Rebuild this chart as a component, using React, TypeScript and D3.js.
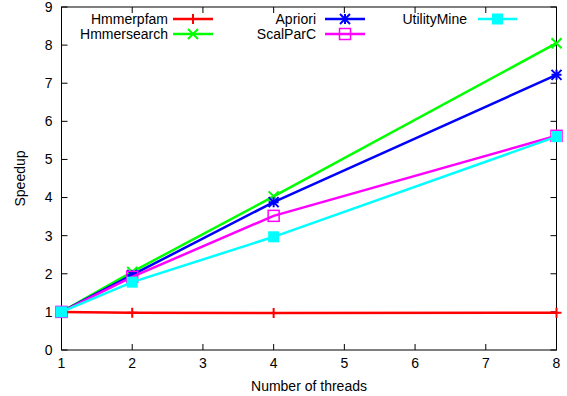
import React from "react";
import * as d3 from "d3";

const threads = [1, 2, 4, 8];
const hmmerpfam = [1, 0.98, 0.97, 0.98];
const hmmersearch = [1, 2.05, 4.03, 8.05];
const apriori = [1, 1.97, 3.88, 7.22];
const scalparc = [1, 1.92, 3.52, 5.62];
const utilitymine = [1, 1.78, 2.97, 5.6];
const xTicks = [1, 2, 3, 4, 5, 6, 7, 8];
const yTicks = [0, 1, 2, 3, 4, 5, 6, 7, 8, 9];

const seriesList = [
  { name: "Hmmerpfam", values: hmmerpfam, color: "#ff0000", marker: "plus" },
  { name: "Hmmersearch", values: hmmersearch, color: "#00ff00", marker: "cross" },
  { name: "Apriori", values: apriori, color: "#0000ff", marker: "star" },
  { name: "ScalParC", values: scalparc, color: "#ff00ff", marker: "square" },
  { name: "UtilityMine", values: utilitymine, color: "#00ffff", marker: "fsquare" },
];

const W = 567, H = 396;
const L = 61.5, R = 556.5, T = 7, B = 350;

function Marker({ type, x, y, color }: { type: string; x: number; y: number; color: string }) {
  const s = 5;
  if (type === "plus")
    return <path d={`M${x - s},${y}H${x + s}M${x},${y - s}V${y + s}`} stroke={color} strokeWidth={2} />;
  if (type === "cross")
    return <path d={`M${x - s},${y - s}L${x + s},${y + s}M${x - s},${y + s}L${x + s},${y - s}`} stroke={color} strokeWidth={2} />;
  if (type === "star")
    return (
      <path
        d={`M${x - s},${y}H${x + s}M${x},${y - s}V${y + s}M${x - s},${y - s}L${x + s},${y + s}M${x - s},${y + s}L${x + s},${y - s}`}
        stroke={color}
        strokeWidth={2}
      />
    );
  if (type === "square")
    return <rect x={x - 5.5} y={y - 5.5} width={11} height={11} fill="none" stroke={color} strokeWidth={1.5} />;
  return <rect x={x - 5.5} y={y - 5.5} width={11} height={11} fill={color} stroke="none" />;
}

export default function App() {
  const x = d3.scaleLinear().domain([1, 8]).range([L, R]);
  const y = d3.scaleLinear().domain([0, 9]).range([B, T]);
  const line = d3
    .line<number>()
    .x((_, i) => x(threads[i]))
    .y((d) => y(d));
  const font = "'Liberation Sans', Arial, Helvetica, sans-serif";
  const fs = 14;

  const legendPos = [
    { tx: 168, lx1: 173, lx2: 213, y: 19 },
    { tx: 168, lx1: 173, lx2: 213, y: 34 },
    { tx: 316, lx1: 325, lx2: 365, y: 19 },
    { tx: 316, lx1: 325, lx2: 365, y: 34 },
    { tx: 467, lx1: 478, lx2: 517, y: 19 },
  ];

  return (
    <svg width={W} height={H} style={{ position: "absolute", left: 0, top: 0, background: "#fff" }} fontFamily={font}>
      <rect width={W} height={H} fill="#fff" />
      {yTicks.map((t) => (
        <g key={"y" + t}>
          <line x1={L} x2={L + 6} y1={y(t)} y2={y(t)} stroke="#000" />
          <line x1={R} x2={R - 6} y1={y(t)} y2={y(t)} stroke="#000" />
          <text x={L - 9} y={y(t)} dy="0.35em" textAnchor="end" fontSize={fs}>
            {t}
          </text>
        </g>
      ))}
      {xTicks.map((t) => (
        <g key={"x" + t}>
          <line x1={x(t)} x2={x(t)} y1={B} y2={B - 6} stroke="#000" />
          <line x1={x(t)} x2={x(t)} y1={T} y2={T + 6} stroke="#000" />
          <text x={x(t)} y={B + 18} textAnchor="middle" fontSize={fs}>
            {t}
          </text>
        </g>
      ))}
      <rect x={L} y={T} width={R - L} height={B - T} fill="none" stroke="#000" strokeWidth={1} />
      {seriesList.map((s) => (
        <g key={s.name}>
          <path d={line(s.values) || ""} fill="none" stroke={s.color} strokeWidth={2.5} />
          {s.values.map((v, i) => (
            <Marker key={i} type={s.marker} x={x(threads[i])} y={y(v)} color={s.color} />
          ))}
        </g>
      ))}
      {seriesList.map((s, i) => {
        const p = legendPos[i];
        return (
          <g key={"lg" + s.name}>
            <text x={p.tx} y={p.y} dy="0.35em" textAnchor="end" fontSize={fs}>
              {s.name}
            </text>
            <line x1={p.lx1} x2={p.lx2} y1={p.y} y2={p.y} stroke={s.color} strokeWidth={2.5} />
            <Marker type={s.marker} x={(p.lx1 + p.lx2) / 2} y={p.y} color={s.color} />
          </g>
        );
      })}
      <text x={309} y={391} textAnchor="middle" fontSize={fs}>
        Number of threads
      </text>
      <text transform={`translate(25,${(T + B) / 2}) rotate(-90)`} textAnchor="middle" fontSize={fs}>
        Speedup
      </text>
    </svg>
  );
}
